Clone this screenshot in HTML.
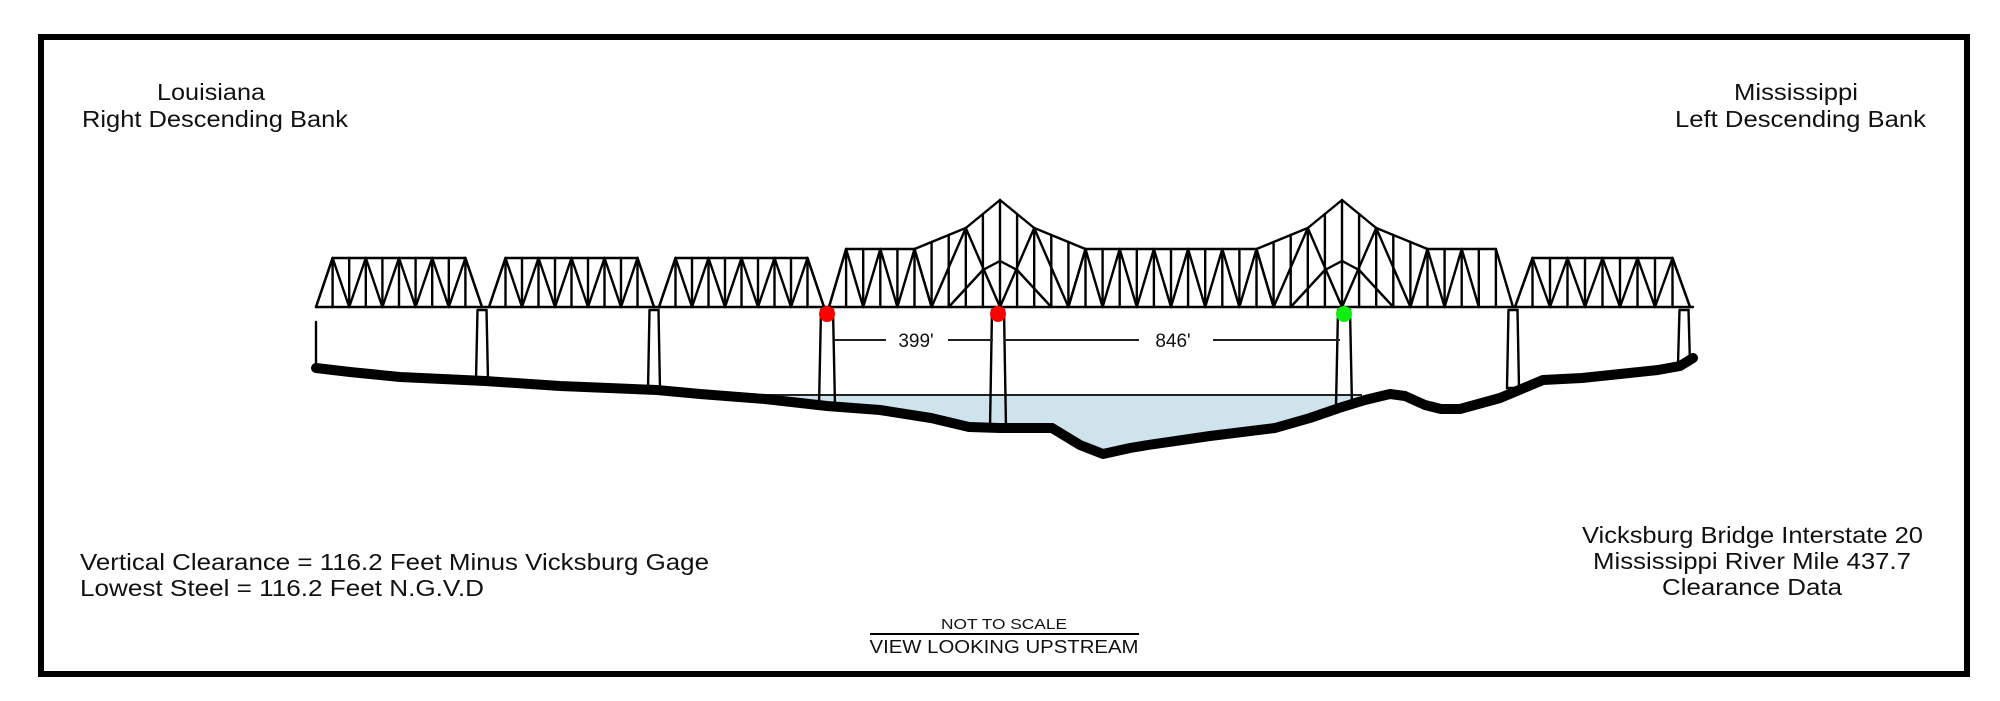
<!DOCTYPE html>
<html><head><meta charset="utf-8"><style>
html,body{margin:0;padding:0;background:#fff;}
svg{display:block;}
text{font-family:"Liberation Sans",Arial,sans-serif;fill:#111;}
</style></head><body>
<svg id="s" width="2000" height="701" viewBox="0 0 2000 701" xmlns="http://www.w3.org/2000/svg">
<rect x="0" y="0" width="2000" height="701" fill="#fff"/>
<rect x="41" y="37" width="1926" height="637" fill="none" stroke="#000" stroke-width="6"/>
<!-- water -->
<polygon points="700,395 1362,395 1340,407 1275,428 1200,440 1130,447 1103,453 1052,428 998,427 931,418 827,405 765,399" fill="#cfe3ed"/>
<line x1="700" y1="395" x2="1362" y2="395" stroke="#222" stroke-width="2"/>
<g id="tr" stroke="#000" stroke-width="2.4" fill="none" stroke-linecap="round"></g>
<!-- ground -->
<polyline points="316,368 350,372 400,377 485,381 560,386 657,390 700,394 765,399 827,406 880,410 931,418 969,427 1000,428 1052,428 1080,445 1103,454 1130,448 1148,445 1210,436 1275,428 1310,418 1339,408 1365,400 1390,394 1405,396 1425,405 1441,409 1460,409 1500,398 1543,380 1582,378 1620,374 1658,370 1680,366 1693,358" fill="none" stroke="#000" stroke-width="10" stroke-linejoin="round" stroke-linecap="round"/>
<!-- dots -->
<circle cx="827" cy="314" r="8" fill="#f00"/>
<circle cx="998" cy="314" r="8" fill="#f00"/>
<circle cx="1344" cy="314" r="8" fill="#1e1"/>
<!-- dimension lines -->
<g stroke="#222" stroke-width="2">
<line x1="834" y1="340" x2="886" y2="340"/>
<line x1="948" y1="340" x2="993" y2="340"/>
<line x1="1004" y1="340" x2="1139" y2="340"/>
<line x1="1213" y1="340" x2="1340" y2="340"/>
</g>
<text x="916" y="347" font-size="19" text-anchor="middle">399'</text>
<text x="1173" y="347" font-size="19" text-anchor="middle">846'</text>
<!-- labels -->
<text x="211" y="100" font-size="23" text-anchor="middle" textLength="108" lengthAdjust="spacingAndGlyphs">Louisiana</text>
<text x="82" y="127" font-size="23" textLength="266" lengthAdjust="spacingAndGlyphs">Right Descending Bank</text>
<text x="1796" y="100" font-size="23" text-anchor="middle" textLength="124" lengthAdjust="spacingAndGlyphs">Mississippi</text>
<text x="1675" y="127" font-size="23" textLength="251" lengthAdjust="spacingAndGlyphs">Left Descending Bank</text>
<text x="80" y="570" font-size="23" textLength="629" lengthAdjust="spacingAndGlyphs">Vertical Clearance = 116.2 Feet Minus Vicksburg Gage</text>
<text x="80" y="596" font-size="23" textLength="404" lengthAdjust="spacingAndGlyphs">Lowest Steel = 116.2 Feet N.G.V.D</text>
<text x="1582" y="543" font-size="23" textLength="341" lengthAdjust="spacingAndGlyphs">Vicksburg Bridge Interstate 20</text>
<text x="1752" y="569" font-size="23" text-anchor="middle" textLength="318" lengthAdjust="spacingAndGlyphs">Mississippi River Mile 437.7</text>
<text x="1752" y="595" font-size="23" text-anchor="middle" textLength="180" lengthAdjust="spacingAndGlyphs">Clearance Data</text>
<text x="1004" y="629" font-size="15" text-anchor="middle" textLength="126" lengthAdjust="spacingAndGlyphs">NOT TO SCALE</text>
<line x1="870" y1="634" x2="1139" y2="634" stroke="#000" stroke-width="2"/>
<text x="1004" y="653" font-size="18" text-anchor="middle" textLength="269" lengthAdjust="spacingAndGlyphs">VIEW LOOKING UPSTREAM</text>
</svg>
<script>
(function(){
var g=document.getElementById('tr'),NS='http://www.w3.org/2000/svg',D=307;
function L(a,b,c,d){var l=document.createElementNS(NS,'line');l.setAttribute('x1',a);l.setAttribute('y1',b);l.setAttribute('x2',c);l.setAttribute('y2',d);g.appendChild(l);}
function P(pts,fill){var p=document.createElementNS(NS,'polyline');p.setAttribute('points',pts.map(function(q){return q.join(',')}).join(' '));if(fill)p.setAttribute('fill',fill);g.appendChild(p);}
L(316,D,1693,D);
function shortSpan(a,b){var n=10,p=(b-a)/n,T=258;
 L(a,D,a+p,T);L(b-p,T,b,D);L(a+p,T,b-p,T);
 for(var i=1;i<n;i++){var x=a+i*p;L(x,T,x,D);
  if(i%2==1){L(x,T,x-p,D);L(x,T,x+p,D);}}
}
shortSpan(316,482);shortSpan(489,654);shortSpan(659,824);shortSpan(1515,1690);
var a=829,p=17.1,n=40;
var tops={};
for(var i=1;i<n;i++)tops[i]=249;
function peak(c){tops[c-4]=242;tops[c-3]=235;tops[c-2]=228;tops[c-1]=214;tops[c]=200;tops[c+1]=214;tops[c+2]=228;tops[c+3]=235;tops[c+4]=242;}
peak(10);peak(30);
function X(i){return a+i*p;}
var top=[];for(var i=1;i<n;i++)top.push([X(i),tops[i]]);
P(top);
L(X(0),D,X(1),tops[1]);L(X(n-1),tops[n-1],X(n),D);
for(var i=1;i<n;i++)L(X(i),tops[i],X(i),D);
function isPeakZone(i){return (i>=6&&i<=14)||(i>=26&&i<=34);}
for(var i=1;i<n-1;i+=2){
 if(!isPeakZone(i)){L(X(i),tops[i],X(i-1),D);L(X(i),tops[i],X(i+1),D);}
}
function peakDiag(c){
 L(X(c-4),D,X(c-2),tops[c-2]);L(X(c-2),tops[c-2],X(c),D);
 L(X(c),D,X(c+2),tops[c+2]);L(X(c+2),tops[c+2],X(c+4),D);
 L(X(c-4),D,X(c-5),tops[c-5]);L(X(c+4),D,X(c+5),tops[c+5]);
 P([[X(c-1),270],[X(c),261],[X(c+1),270]]);
 L(X(c-1),270,X(c-3),D);L(X(c+1),270,X(c+3),D);
}
peakDiag(10);peakDiag(30);
function pier(x,wTop,wBot,yb){P([[x-wTop/2,310],[x-wBot/2,yb],[x+wBot/2,yb],[x+wTop/2,310],[x-wTop/2,310]]);}
L(316,322,316,367);
pier(482,9,12,380);pier(654,9,12,390);
pier(827,12,16,406);pier(998,12,16,428);pier(1344,12,16,406);
pier(1513,9,12,388);pier(1684,9,12,364);
})();
</script>
</body></html>
